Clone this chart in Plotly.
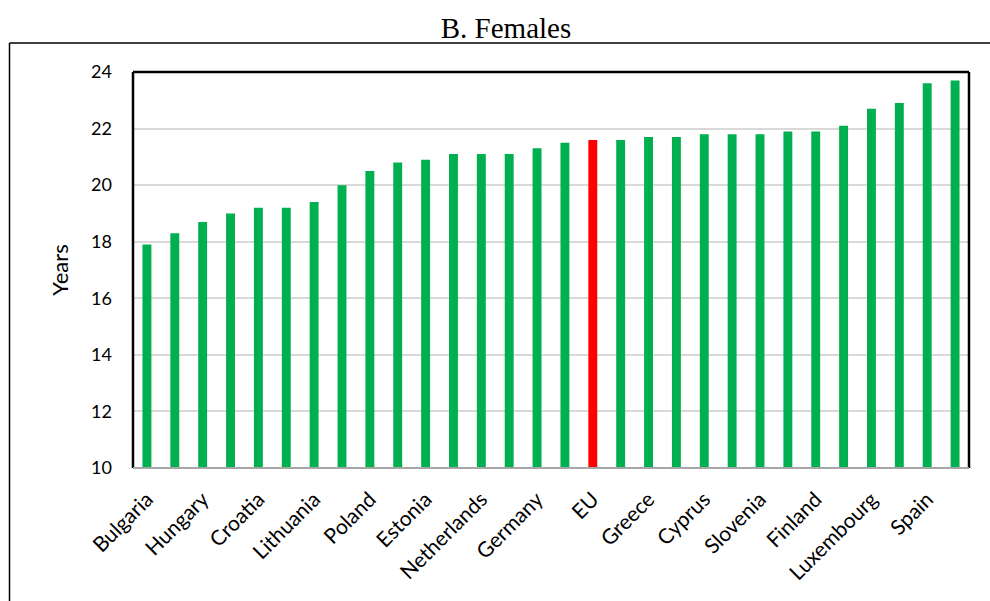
import plotly.graph_objects as go

# Life expectancy at 65, females, sorted ascending
countries = [
    "Bulgaria", "Romania", "Hungary", "Slovakia", "Croatia", "Latvia",
    "Lithuania", "Czechia", "Poland", "Denmark", "Estonia", "Ireland",
    "Netherlands", "Sweden", "Germany", "Austria", "EU", "Belgium",
    "Greece", "Malta", "Cyprus", "Portugal", "Slovenia", "Italy",
    "Finland", "Belgium ", "Luxembourg", "Italy ", "Spain", "France",
]
years = [
    17.9, 18.3, 18.7, 19.0, 19.2, 19.2,
    19.4, 20.0, 20.5, 20.8, 20.9, 21.1,
    21.1, 21.1, 21.3, 21.5, 21.6, 21.6,
    21.7, 21.7, 21.8, 21.8, 21.8, 21.9,
    21.9, 22.1, 22.7, 22.9, 23.6, 23.7,
]
shown_labels = countries[::2]
y_ticks = [10, 12, 14, 16, 18, 20, 22, 24]

GREEN = "#00B050"
RED = "#FF0000"
colors = [RED if c == "EU" else GREEN for c in countries]

W, H = 990, 601
ML, MR, MT, MB = 133, 21, 72, 133
pw, ph = W - ML - MR, H - MT - MB

fig = go.Figure(go.Bar(
    x=countries, y=years, marker=dict(color=colors, line=dict(width=0)),
    hoverinfo="x+y",
))

axis_font = dict(family="Lato, 'Open Sans', sans-serif", color="black")

fig.update_layout(
    width=W, height=H,
    margin=dict(l=ML, r=MR, t=MT, b=MB),
    paper_bgcolor="white", plot_bgcolor="white",
    bargap=0.68, showlegend=False,
    title=dict(text="B. Females", x=(506 - ML) / pw, xref="paper",
               xanchor="center", y=1 - 28 / H, yanchor="middle",
               font=dict(family="'Liberation Serif', 'Times New Roman', serif",
                         size=29, color="black")),
    xaxis=dict(
        type="category", tickmode="array", tickvals=shown_labels,
        ticktext=shown_labels, tickangle=-45, tickfont=dict(size=21, **axis_font),
        showgrid=False, showline=False, ticks="", range=[-0.5, 29.5],
        ticklabelstandoff=14,
    ),
    yaxis=dict(
        range=[10, 24], tickvals=y_ticks, tickfont=dict(size=18, **axis_font),
        showgrid=True, gridcolor="#D9D9D9", gridwidth=1.5,
        showline=False, ticks="", ticklabelstandoff=20, zeroline=False,
        title=dict(text="Years", font=dict(size=22, **axis_font), standoff=16),
    ),
)

def px_x(x):
    return (x - ML) / pw

def px_y(y):
    return (H - MB - y) / ph

shapes = [
    # plot box: black on left, top and right, grey baseline
    dict(type="line", xref="paper", yref="paper", x0=0, x1=0, y0=0, y1=1,
         line=dict(color="black", width=2.5)),
    dict(type="line", xref="paper", yref="paper", x0=0, x1=1, y0=1, y1=1,
         line=dict(color="black", width=2.5)),
    dict(type="line", xref="paper", yref="paper", x0=1, x1=1, y0=0, y1=1,
         line=dict(color="black", width=2.5)),
    dict(type="line", xref="paper", yref="paper", x0=0, x1=1, y0=0, y1=0,
         line=dict(color="#A6A6A6", width=2)),
    # outer chart frame
    dict(type="line", xref="paper", yref="paper",
         x0=px_x(9.5), x1=px_x(9.5), y0=px_y(H + 5), y1=px_y(43),
         line=dict(color="black", width=1.5)),
    dict(type="line", xref="paper", yref="paper",
         x0=px_x(9.5), x1=px_x(W + 5), y0=px_y(43), y1=px_y(43),
         line=dict(color="black", width=1.5)),
]
fig.update_layout(shapes=shapes)

fig.write_html("out.html")
